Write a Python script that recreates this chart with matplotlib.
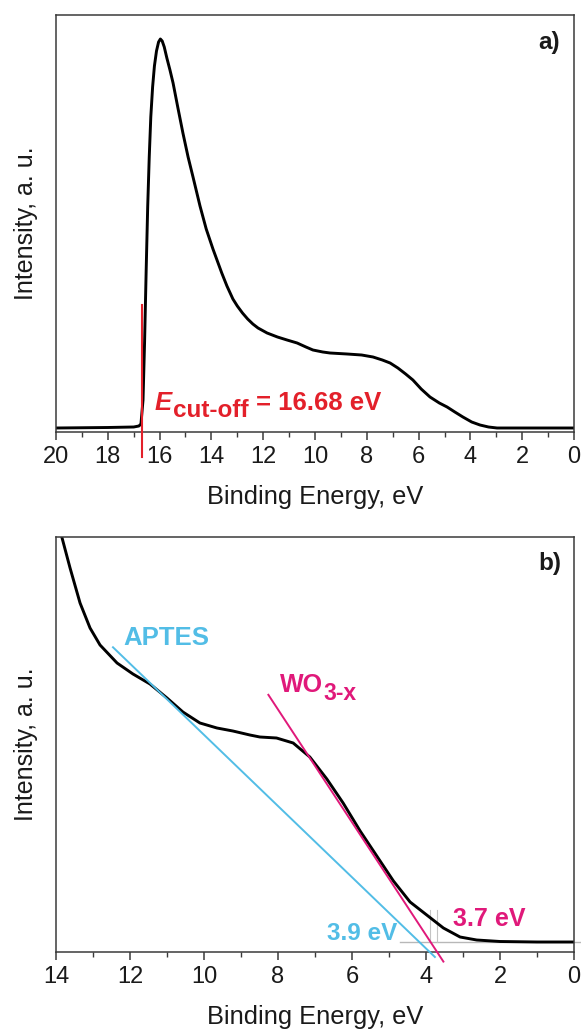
import matplotlib
matplotlib.use("Agg")
import matplotlib.pyplot as plt
from matplotlib.ticker import MultipleLocator

plt.rcParams['font.family'] = ['Liberation Sans', 'DejaVu Sans']

# ---- Panel a: secondary-electron cut-off region ----
energy_a = [20.0, 18.0, 17.0, 16.80, 16.72, 16.64, 16.58, 16.52, 16.46, 16.40,
            16.34, 16.27, 16.20, 16.12, 16.04, 15.97, 15.90, 15.82, 15.72, 15.60,
            15.48, 15.30, 15.10, 14.90, 14.71, 14.44, 14.20, 13.94, 13.60, 13.40,
            13.17, 13.00, 12.80, 12.60, 12.40, 12.20, 11.85, 11.45, 11.08, 10.69,
            10.35, 10.08, 9.70, 9.42, 8.76, 8.20, 7.76, 7.40, 7.10, 6.80,
            6.50, 6.22, 5.90, 5.56, 5.20, 4.90, 4.60, 4.29, 3.95, 3.63,
            3.30, 2.97, 2.0, 0.0]
intensity_a = [4, 4.5, 5, 6, 8, 32, 90, 160, 225, 275,
               315, 345, 366, 381, 390, 393, 391, 385, 374, 362,
               349, 325, 299, 275, 255, 226, 203, 183, 159, 146,
               133, 126, 119, 113, 108, 104, 99, 95, 92, 89,
               85, 82, 80, 79, 78, 77, 75, 72, 69, 64,
               58, 52, 43, 35, 29, 25, 20, 15, 10, 7,
               5, 4, 4, 4]
cutoff_energy = 16.68
cutoff_marker = (-25, 127)   # intensity span of the red cut-off mark

# ---- Panel b: valence-band onset region ----
energy_b = [14.0, 13.85, 13.62, 13.35, 13.08, 12.81, 12.35, 11.92, 11.46, 11.0,
            10.57, 10.11, 9.65, 9.22, 8.76, 8.49, 8.04, 7.59, 7.14, 6.68,
            6.24, 5.78, 5.33, 4.88, 4.43, 3.98, 3.53, 3.08, 2.63, 2.0,
            1.0, 0.0]
intensity_b = [460, 416, 384, 349, 324, 307, 289, 278, 268, 254,
               240, 229, 224, 221, 217, 215, 214, 209, 195, 173,
               149, 121, 96, 71, 50, 37, 24, 15, 12, 10.5,
               10, 10]
baseline_b = 10
aptes_onset = 3.9
aptes_slope = 35.6
aptes_span = (12.46, 3.76)
wo3_onset = 3.7
wo3_slope = 56.4
wo3_span = (8.26, 3.53)

red = '#e3202a'
cyan = '#52bde6'
magenta = '#e0197a'
spine_col = '#3a3a3a'

fig = plt.figure(figsize=(5.81, 10.31), dpi=100)
ax_a = fig.add_axes([56 / 581, 1 - 432 / 1031, 518 / 581, 417 / 1031])
ax_b = fig.add_axes([56 / 581, 1 - 952 / 1031, 518 / 581, 415 / 1031])


def style_axes(ax, xmax, ylim):
    ax.set_xlim(xmax, 0)
    ax.set_ylim(*ylim)
    ax.xaxis.set_major_locator(MultipleLocator(2))
    ax.xaxis.set_minor_locator(MultipleLocator(1))
    ax.set_yticks([])
    ax.tick_params(axis='x', which='major', direction='out', length=6, width=1.1,
                   colors=spine_col, labelcolor='#1a1a1a', labelsize=17, pad=4)
    ax.tick_params(axis='x', which='minor', direction='out', length=3.5, width=1.0,
                   colors=spine_col)
    for s in ax.spines.values():
        s.set_color(spine_col)
        s.set_linewidth(1.1)
    ax.set_xlabel('Binding Energy, eV', fontsize=18.3, color='#1a1a1a', labelpad=12)
    ax.set_ylabel('Intensity, a. u.', fontsize=18, color='#1a1a1a', labelpad=13)


def text_run(ax, x, y, pieces, color):
    """Draw consecutive text pieces (text, size, style, dy_px, gap_px) on one line."""
    xoff = 0
    for txt, size, fstyle, dy, gap in pieces:
        xoff += gap
        t = ax.annotate(txt, xy=(x, y), xycoords='data', xytext=(xoff, dy),
                        textcoords='offset pixels', fontsize=size, fontweight='bold',
                        fontstyle=fstyle, color=color, ha='left', va='baseline',
                        annotation_clip=False)
        fig.canvas.draw()
        xoff += t.get_window_extent().width


# Panel a
style_axes(ax_a, 20, (0, 417))
ax_a.plot(energy_a, intensity_a, color='black', lw=2.1, solid_joinstyle='round')
ax_a.plot([cutoff_energy, cutoff_energy], cutoff_marker, color=red, lw=1.5,
          clip_on=False, zorder=3)
ax_a.text(0.952, 0.935, 'a)', transform=ax_a.transAxes, fontsize=17.5,
          fontweight='bold', ha='center', va='center', color='#1a1a1a')
text_run(ax_a, 16.18, 22,
         [('E', 18.5, 'italic', 0, 0),
          ('cut-off', 17.5, 'normal', -7, 1),
          ('= 16.68 eV', 18.5, 'normal', 0, 7)], red)

# Panel b
style_axes(ax_b, 14, (0, 415))
ax_b.plot([4.7, -0.2], [baseline_b, baseline_b], color='#b8b8b8', lw=1.0,
          clip_on=False, zorder=1)
for onset in (aptes_onset, wo3_onset):
    ax_b.plot([onset, onset], [baseline_b, 42], color='#c4c4c4', lw=0.8, zorder=1)
ax_b.plot(energy_b, intensity_b, color='black', lw=2.1, zorder=2,
          solid_joinstyle='round')

aptes_x = list(aptes_span)
aptes_y = [aptes_slope * (e - aptes_onset) for e in aptes_x]
ax_b.plot(aptes_x, aptes_y, color=cyan, lw=1.4, zorder=3, clip_on=False)

wo3_x = list(wo3_span)
wo3_y = [wo3_slope * (e - wo3_onset) for e in wo3_x]
ax_b.plot(wo3_x, wo3_y, color=magenta, lw=1.4, zorder=3, clip_on=False)

ax_b.text(0.954, 0.937, 'b)', transform=ax_b.transAxes, fontsize=17.5,
          fontweight='bold', ha='center', va='center', color='#1a1a1a')
text_run(ax_b, 12.19, 307, [('APTES', 18.5, 'normal', 0, 0)], cyan)
text_run(ax_b, 7.95, 260, [('WO', 18, 'normal', 0, 0),
                           ('3-x', 16.5, 'normal', -8, 1)], magenta)
text_run(ax_b, 6.68, 12, [('3.9 eV', 17.5, 'normal', 0, 0)], cyan)
text_run(ax_b, 3.27, 26, [('3.7 eV', 18, 'normal', 0, 0)], magenta)

fig.savefig('out.png', dpi=100)
